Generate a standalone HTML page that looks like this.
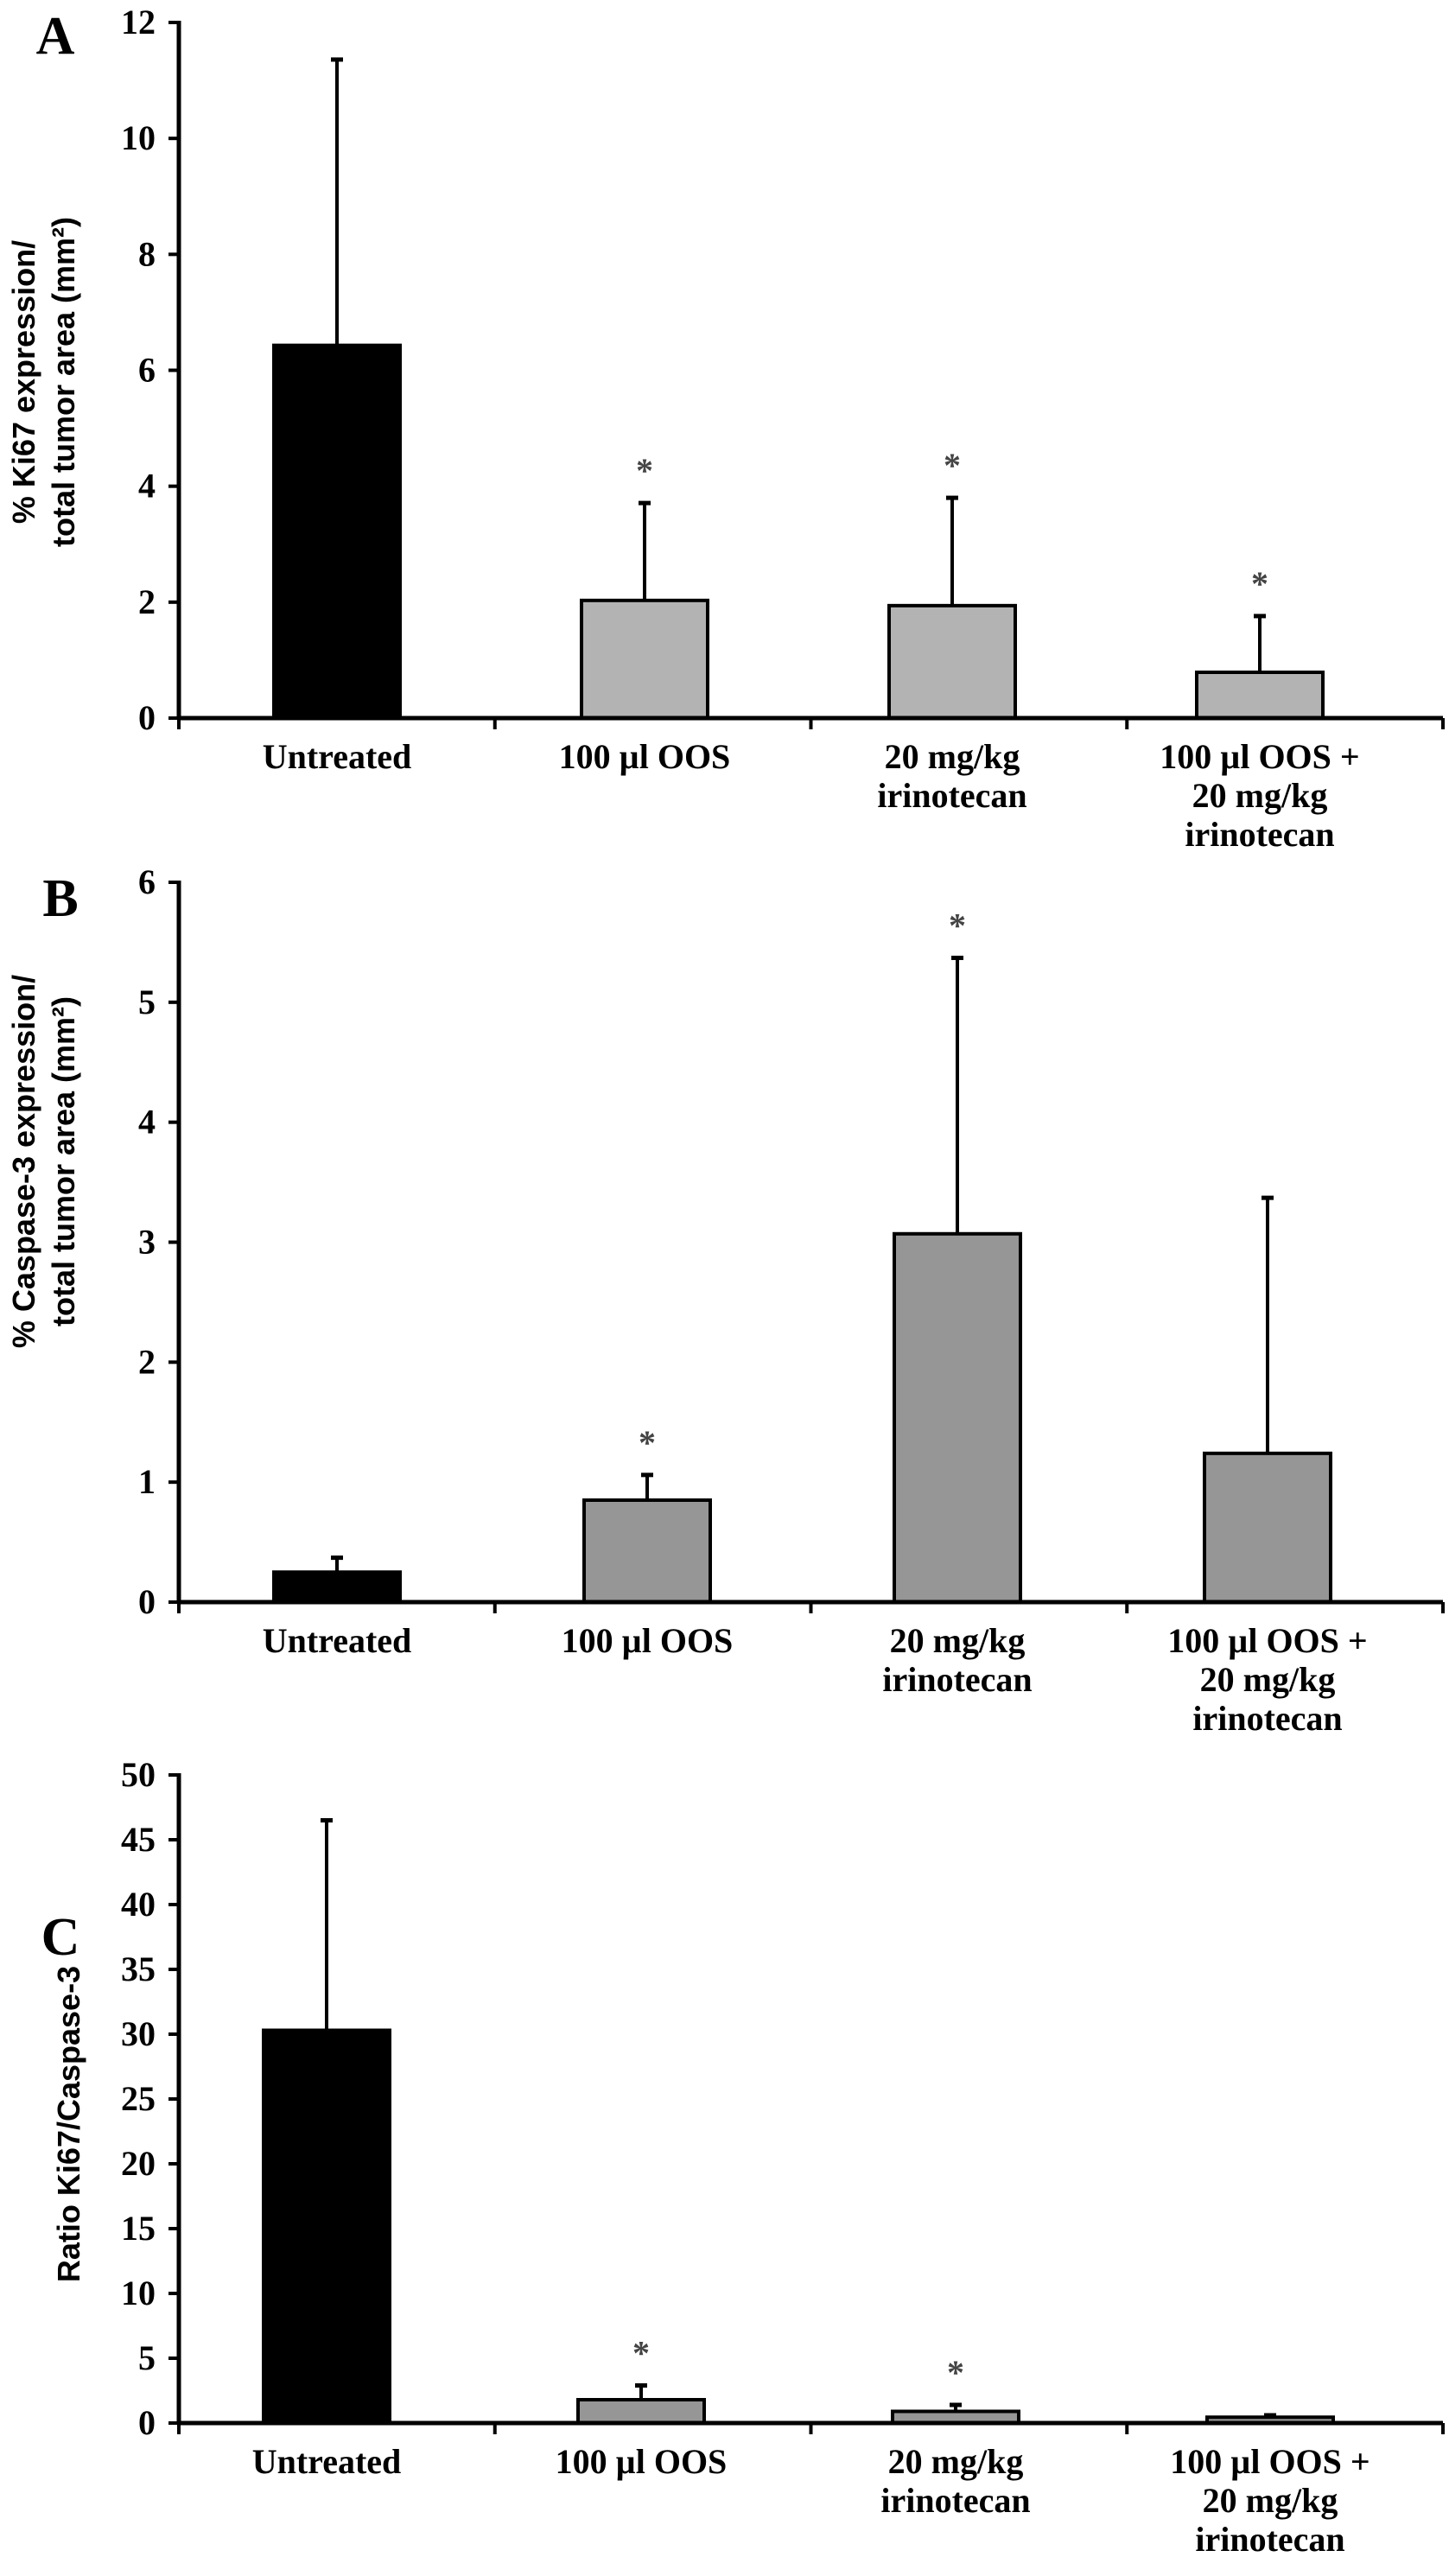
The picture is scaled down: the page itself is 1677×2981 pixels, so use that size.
<!DOCTYPE html>
<html><head><meta charset="utf-8"><style>
html,body{margin:0;padding:0;background:#fff;}
svg{display:block;}
.tk{font-family:"Liberation Serif",serif;font-weight:bold;font-size:40px;}
.yt{font-family:"Liberation Sans",sans-serif;font-weight:bold;font-size:36px;}
.pl{font-family:"Liberation Serif",serif;font-weight:bold;font-size:62px;}
</style></head><body>
<svg id="fig" width="1677" height="2981" viewBox="0 0 1677 2981" xmlns="http://www.w3.org/2000/svg"></svg>
<script>
const categories = [["Untreated"],["100 µl OOS"],["20 mg/kg","irinotecan"],["100 µl OOS +","20 mg/kg","irinotecan"]];
const valuesA = [6.43, 2.03, 1.94, 0.79];
const errorsA = [11.36, 3.71, 3.8, 1.76];
const sigA = [false, true, true, true];
const ticksA = [0,2,4,6,8,10,12];
const valuesB = [0.25, 0.85, 3.07, 1.24];
const errorsB = [0.37, 1.06, 5.37, 3.37];
const sigB = [false, true, true, false];
const ticksB = [0,1,2,3,4,5,6];
const valuesC = [30.3, 1.8, 0.9, 0.45];
const errorsC = [46.5, 2.9, 1.4, 0.6];
const sigC = [false, true, true, false];
const ticksC = [0,5,10,15,20,25,30,35,40,45,50];

const NS="http://www.w3.org/2000/svg";
const svg=document.getElementById('fig');
function mk(tag,attrs,parent){const e=document.createElementNS(NS,tag);for(const k in attrs)e.setAttribute(k,attrs[k]);(parent||svg).appendChild(e);return e;}

function panel(opt){
  const g=mk('g',{});
  
  
  const y0=opt.y0, yTop=opt.yTop, max=opt.ticks[opt.ticks.length-1];
  const ys=v=>y0-(v/max)*(y0-yTop);
  const ax=207, axR=1670;
  opt.values.forEach((v,i)=>{
    const cx=opt.cx0+opt.step*i, w=146;
    const e=mk('line',{x1:cx,x2:cx,y1:ys(v),y2:ys(opt.errors[i]),stroke:'#000','stroke-width':4},g);
    
    
    const c=mk('line',{x1:cx-7,x2:cx+7,y1:ys(opt.errors[i]),y2:ys(opt.errors[i]),stroke:'#000','stroke-width':5},g);
    
    
    const r=mk('rect',{x:cx-w/2,y:ys(v),width:w,height:y0-ys(v),fill:i===0?'#000':opt.gray,stroke:'#000','stroke-width':4},g);
    
    
    if(opt.sig[i]){
      const s=mk('text',{x:cx,y:ys(opt.errors[i])-opt.starGap,'text-anchor':'middle',class:'tk','font-size':'32',fill:'#444'},g);
      s.textContent='*';
      
      
    }
    categories[i].forEach((t,j)=>{
      const l=mk('text',{x:cx,y:y0+58+j*45,'text-anchor':'middle',class:'tk'},g);
      l.textContent=t;
      
      
    });
  });
  const ya=mk('line',{x1:ax,x2:ax,y1:yTop-2,y2:y0+2,stroke:'#000','stroke-width':5},g);
  
  
  const xa=mk('line',{x1:ax,x2:axR,y1:y0,y2:y0,stroke:'#000','stroke-width':5},g);
  
  
  for(let k=0;k<=4;k++){
    const x=ax+(axR-ax)*k/4;
    mk('line',{x1:x,x2:x,y1:y0,y2:y0+13,stroke:'#000','stroke-width':4},g);
  }
  opt.ticks.forEach(t=>{
    mk('line',{x1:ax-12,x2:ax,y1:ys(t),y2:ys(t),stroke:'#000','stroke-width':4},g);
    const l=mk('text',{x:180,y:ys(t)+13,'text-anchor':'end',class:'tk'},g);
    l.textContent=t;
    
    
  });
  const pl=mk('text',{x:opt.lx,y:opt.ly,class:'pl','text-anchor':'middle'},g);
  pl.textContent=opt.id;
  
  
  const tt=mk('text',{class:'yt','text-anchor':'middle',transform:`translate(${opt.tx},${opt.ty}) rotate(-90)`},g);
  
  
  opt.title.forEach((t,j)=>{const s=mk('tspan',{x:0,dy:j===0?(opt.title.length>1?-10:12):46},tt);s.textContent=t;});
}

panel({id:'A',values:valuesA,errors:errorsA,sig:sigA,ticks:ticksA,y0:831,yTop:26,cx0:390,step:356,gray:'#b3b3b3',starGap:24,lx:64,ly:62,tx:50,ty:442,title:['% Ki67 expression/','total tumor area (mm²)']});
panel({id:'B',values:valuesB,errors:errorsB,sig:sigB,ticks:ticksB,y0:1854,yTop:1021,cx0:390,step:359,gray:'#969696',starGap:24,lx:70,ly:1060,tx:50,ty:1344,title:['% Caspase-3 expression/','total tumor area (mm²)']});
panel({id:'C',values:valuesC,errors:errorsC,sig:sigC,ticks:ticksC,y0:2804,yTop:2054,cx0:378,step:364,gray:'#969696',starGap:24,lx:70,ly:2262,tx:80,ty:2458,title:['Ratio Ki67/Caspase-3']});
</script>
</body></html>
